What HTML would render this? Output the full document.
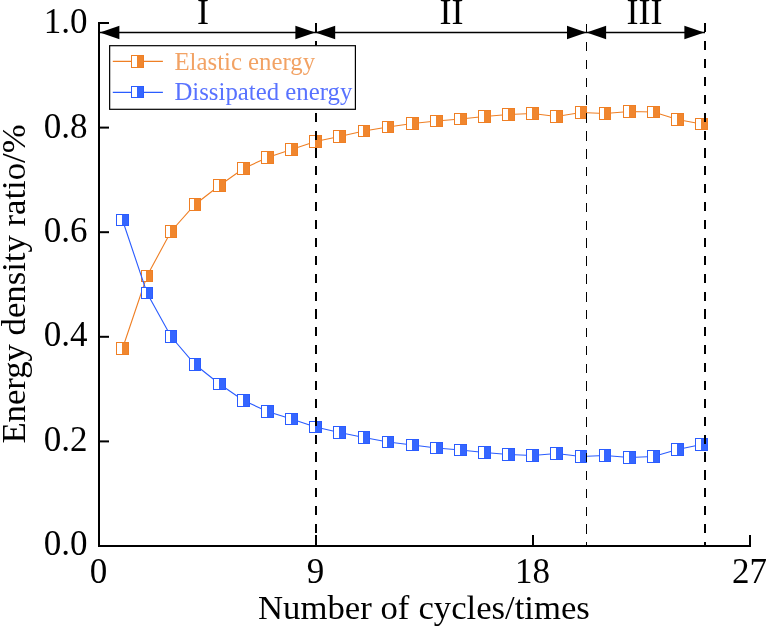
<!DOCTYPE html>
<html><head><meta charset="utf-8"><style>
html,body{margin:0;padding:0;background:#fff;}
body{width:766px;height:627px;overflow:hidden;}
svg{display:block;will-change:transform;font-family:"Liberation Serif",serif;}
</style></head><body>
<svg width="766" height="627" viewBox="0 0 766 627">
<polyline points="122.50,348.50 147.00,276.00 171.00,231.50 195.00,204.50 219.50,185.50 243.50,168.50 267.50,157.50 291.50,149.50 315.50,141.50 339.50,136.50 364.00,131.00 388.00,127.00 412.50,123.50 436.50,121.00 460.50,119.00 484.50,116.50 508.50,114.50 532.50,113.50 556.50,116.50 581.00,112.50 605.00,113.50 629.50,111.50 653.50,112.00 677.50,119.50 701.50,124.00" fill="none" stroke="#ef7f24" stroke-width="1.1"/><rect x="116" y="342" width="13" height="13" fill="#fff"/><rect x="122" y="342" width="7" height="13" fill="#f0862e"/><rect x="116.5" y="342.5" width="12" height="12" fill="none" stroke="#ef7f24" stroke-width="1"/><rect x="141" y="270" width="12" height="12" fill="#fff"/><rect x="146" y="270" width="7" height="12" fill="#f0862e"/><rect x="141.5" y="270.5" width="11" height="11" fill="none" stroke="#ef7f24" stroke-width="1"/><rect x="165" y="225" width="12" height="13" fill="#fff"/><rect x="170" y="225" width="7" height="13" fill="#f0862e"/><rect x="165.5" y="225.5" width="11" height="12" fill="none" stroke="#ef7f24" stroke-width="1"/><rect x="189" y="198" width="12" height="13" fill="#fff"/><rect x="194" y="198" width="7" height="13" fill="#f0862e"/><rect x="189.5" y="198.5" width="11" height="12" fill="none" stroke="#ef7f24" stroke-width="1"/><rect x="213" y="179" width="13" height="13" fill="#fff"/><rect x="219" y="179" width="7" height="13" fill="#f0862e"/><rect x="213.5" y="179.5" width="12" height="12" fill="none" stroke="#ef7f24" stroke-width="1"/><rect x="237" y="162" width="13" height="13" fill="#fff"/><rect x="243" y="162" width="7" height="13" fill="#f0862e"/><rect x="237.5" y="162.5" width="12" height="12" fill="none" stroke="#ef7f24" stroke-width="1"/><rect x="261" y="151" width="13" height="13" fill="#fff"/><rect x="267" y="151" width="7" height="13" fill="#f0862e"/><rect x="261.5" y="151.5" width="12" height="12" fill="none" stroke="#ef7f24" stroke-width="1"/><rect x="285" y="143" width="13" height="13" fill="#fff"/><rect x="291" y="143" width="7" height="13" fill="#f0862e"/><rect x="285.5" y="143.5" width="12" height="12" fill="none" stroke="#ef7f24" stroke-width="1"/><rect x="309" y="135" width="13" height="13" fill="#fff"/><rect x="315" y="135" width="7" height="13" fill="#f0862e"/><rect x="309.5" y="135.5" width="12" height="12" fill="none" stroke="#ef7f24" stroke-width="1"/><rect x="333" y="130" width="13" height="13" fill="#fff"/><rect x="339" y="130" width="7" height="13" fill="#f0862e"/><rect x="333.5" y="130.5" width="12" height="12" fill="none" stroke="#ef7f24" stroke-width="1"/><rect x="358" y="125" width="12" height="12" fill="#fff"/><rect x="363" y="125" width="7" height="12" fill="#f0862e"/><rect x="358.5" y="125.5" width="11" height="11" fill="none" stroke="#ef7f24" stroke-width="1"/><rect x="382" y="121" width="12" height="12" fill="#fff"/><rect x="387" y="121" width="7" height="12" fill="#f0862e"/><rect x="382.5" y="121.5" width="11" height="11" fill="none" stroke="#ef7f24" stroke-width="1"/><rect x="406" y="117" width="13" height="13" fill="#fff"/><rect x="412" y="117" width="7" height="13" fill="#f0862e"/><rect x="406.5" y="117.5" width="12" height="12" fill="none" stroke="#ef7f24" stroke-width="1"/><rect x="430" y="115" width="13" height="12" fill="#fff"/><rect x="436" y="115" width="7" height="12" fill="#f0862e"/><rect x="430.5" y="115.5" width="12" height="11" fill="none" stroke="#ef7f24" stroke-width="1"/><rect x="454" y="113" width="13" height="12" fill="#fff"/><rect x="460" y="113" width="7" height="12" fill="#f0862e"/><rect x="454.5" y="113.5" width="12" height="11" fill="none" stroke="#ef7f24" stroke-width="1"/><rect x="478" y="110" width="13" height="13" fill="#fff"/><rect x="484" y="110" width="7" height="13" fill="#f0862e"/><rect x="478.5" y="110.5" width="12" height="12" fill="none" stroke="#ef7f24" stroke-width="1"/><rect x="502" y="108" width="13" height="13" fill="#fff"/><rect x="508" y="108" width="7" height="13" fill="#f0862e"/><rect x="502.5" y="108.5" width="12" height="12" fill="none" stroke="#ef7f24" stroke-width="1"/><rect x="526" y="107" width="13" height="13" fill="#fff"/><rect x="532" y="107" width="7" height="13" fill="#f0862e"/><rect x="526.5" y="107.5" width="12" height="12" fill="none" stroke="#ef7f24" stroke-width="1"/><rect x="550" y="110" width="13" height="13" fill="#fff"/><rect x="556" y="110" width="7" height="13" fill="#f0862e"/><rect x="550.5" y="110.5" width="12" height="12" fill="none" stroke="#ef7f24" stroke-width="1"/><rect x="575" y="106" width="12" height="13" fill="#fff"/><rect x="580" y="106" width="7" height="13" fill="#f0862e"/><rect x="575.5" y="106.5" width="11" height="12" fill="none" stroke="#ef7f24" stroke-width="1"/><rect x="599" y="107" width="12" height="13" fill="#fff"/><rect x="604" y="107" width="7" height="13" fill="#f0862e"/><rect x="599.5" y="107.5" width="11" height="12" fill="none" stroke="#ef7f24" stroke-width="1"/><rect x="623" y="105" width="13" height="13" fill="#fff"/><rect x="629" y="105" width="7" height="13" fill="#f0862e"/><rect x="623.5" y="105.5" width="12" height="12" fill="none" stroke="#ef7f24" stroke-width="1"/><rect x="647" y="106" width="13" height="12" fill="#fff"/><rect x="653" y="106" width="7" height="12" fill="#f0862e"/><rect x="647.5" y="106.5" width="12" height="11" fill="none" stroke="#ef7f24" stroke-width="1"/><rect x="671" y="113" width="13" height="13" fill="#fff"/><rect x="677" y="113" width="7" height="13" fill="#f0862e"/><rect x="671.5" y="113.5" width="12" height="12" fill="none" stroke="#ef7f24" stroke-width="1"/><rect x="695" y="118" width="13" height="12" fill="#fff"/><rect x="701" y="118" width="7" height="12" fill="#f0862e"/><rect x="695.5" y="118.5" width="12" height="11" fill="none" stroke="#ef7f24" stroke-width="1"/>
<polyline points="122.50,220.00 147.00,293.00 171.00,336.50 195.00,364.50 219.50,384.00 243.50,400.50 267.50,411.50 291.50,419.00 315.50,427.00 339.50,432.50 364.00,437.50 388.00,442.00 412.50,445.00 436.50,448.00 460.50,450.00 484.50,452.50 508.50,454.50 532.50,455.50 556.50,453.50 581.00,456.50 605.00,455.50 629.50,457.50 653.50,456.50 677.50,449.50 701.50,444.50" fill="none" stroke="#2a5cff" stroke-width="1.1"/><rect x="116" y="214" width="13" height="12" fill="#fff"/><rect x="122" y="214" width="7" height="12" fill="#3566ff"/><rect x="116.5" y="214.5" width="12" height="11" fill="none" stroke="#2a5cff" stroke-width="1"/><rect x="141" y="287" width="12" height="12" fill="#fff"/><rect x="146" y="287" width="7" height="12" fill="#3566ff"/><rect x="141.5" y="287.5" width="11" height="11" fill="none" stroke="#2a5cff" stroke-width="1"/><rect x="165" y="330" width="12" height="13" fill="#fff"/><rect x="170" y="330" width="7" height="13" fill="#3566ff"/><rect x="165.5" y="330.5" width="11" height="12" fill="none" stroke="#2a5cff" stroke-width="1"/><rect x="189" y="358" width="12" height="13" fill="#fff"/><rect x="194" y="358" width="7" height="13" fill="#3566ff"/><rect x="189.5" y="358.5" width="11" height="12" fill="none" stroke="#2a5cff" stroke-width="1"/><rect x="213" y="378" width="13" height="12" fill="#fff"/><rect x="219" y="378" width="7" height="12" fill="#3566ff"/><rect x="213.5" y="378.5" width="12" height="11" fill="none" stroke="#2a5cff" stroke-width="1"/><rect x="237" y="394" width="13" height="13" fill="#fff"/><rect x="243" y="394" width="7" height="13" fill="#3566ff"/><rect x="237.5" y="394.5" width="12" height="12" fill="none" stroke="#2a5cff" stroke-width="1"/><rect x="261" y="405" width="13" height="13" fill="#fff"/><rect x="267" y="405" width="7" height="13" fill="#3566ff"/><rect x="261.5" y="405.5" width="12" height="12" fill="none" stroke="#2a5cff" stroke-width="1"/><rect x="285" y="413" width="13" height="12" fill="#fff"/><rect x="291" y="413" width="7" height="12" fill="#3566ff"/><rect x="285.5" y="413.5" width="12" height="11" fill="none" stroke="#2a5cff" stroke-width="1"/><rect x="309" y="421" width="13" height="12" fill="#fff"/><rect x="315" y="421" width="7" height="12" fill="#3566ff"/><rect x="309.5" y="421.5" width="12" height="11" fill="none" stroke="#2a5cff" stroke-width="1"/><rect x="333" y="426" width="13" height="13" fill="#fff"/><rect x="339" y="426" width="7" height="13" fill="#3566ff"/><rect x="333.5" y="426.5" width="12" height="12" fill="none" stroke="#2a5cff" stroke-width="1"/><rect x="358" y="431" width="12" height="13" fill="#fff"/><rect x="363" y="431" width="7" height="13" fill="#3566ff"/><rect x="358.5" y="431.5" width="11" height="12" fill="none" stroke="#2a5cff" stroke-width="1"/><rect x="382" y="436" width="12" height="12" fill="#fff"/><rect x="387" y="436" width="7" height="12" fill="#3566ff"/><rect x="382.5" y="436.5" width="11" height="11" fill="none" stroke="#2a5cff" stroke-width="1"/><rect x="406" y="439" width="13" height="12" fill="#fff"/><rect x="412" y="439" width="7" height="12" fill="#3566ff"/><rect x="406.5" y="439.5" width="12" height="11" fill="none" stroke="#2a5cff" stroke-width="1"/><rect x="430" y="442" width="13" height="12" fill="#fff"/><rect x="436" y="442" width="7" height="12" fill="#3566ff"/><rect x="430.5" y="442.5" width="12" height="11" fill="none" stroke="#2a5cff" stroke-width="1"/><rect x="454" y="444" width="13" height="12" fill="#fff"/><rect x="460" y="444" width="7" height="12" fill="#3566ff"/><rect x="454.5" y="444.5" width="12" height="11" fill="none" stroke="#2a5cff" stroke-width="1"/><rect x="478" y="446" width="13" height="13" fill="#fff"/><rect x="484" y="446" width="7" height="13" fill="#3566ff"/><rect x="478.5" y="446.5" width="12" height="12" fill="none" stroke="#2a5cff" stroke-width="1"/><rect x="502" y="448" width="13" height="13" fill="#fff"/><rect x="508" y="448" width="7" height="13" fill="#3566ff"/><rect x="502.5" y="448.5" width="12" height="12" fill="none" stroke="#2a5cff" stroke-width="1"/><rect x="526" y="449" width="13" height="13" fill="#fff"/><rect x="532" y="449" width="7" height="13" fill="#3566ff"/><rect x="526.5" y="449.5" width="12" height="12" fill="none" stroke="#2a5cff" stroke-width="1"/><rect x="550" y="447" width="13" height="13" fill="#fff"/><rect x="556" y="447" width="7" height="13" fill="#3566ff"/><rect x="550.5" y="447.5" width="12" height="12" fill="none" stroke="#2a5cff" stroke-width="1"/><rect x="575" y="450" width="12" height="13" fill="#fff"/><rect x="580" y="450" width="7" height="13" fill="#3566ff"/><rect x="575.5" y="450.5" width="11" height="12" fill="none" stroke="#2a5cff" stroke-width="1"/><rect x="599" y="449" width="12" height="13" fill="#fff"/><rect x="604" y="449" width="7" height="13" fill="#3566ff"/><rect x="599.5" y="449.5" width="11" height="12" fill="none" stroke="#2a5cff" stroke-width="1"/><rect x="623" y="451" width="13" height="13" fill="#fff"/><rect x="629" y="451" width="7" height="13" fill="#3566ff"/><rect x="623.5" y="451.5" width="12" height="12" fill="none" stroke="#2a5cff" stroke-width="1"/><rect x="647" y="450" width="13" height="13" fill="#fff"/><rect x="653" y="450" width="7" height="13" fill="#3566ff"/><rect x="647.5" y="450.5" width="12" height="12" fill="none" stroke="#2a5cff" stroke-width="1"/><rect x="671" y="443" width="13" height="13" fill="#fff"/><rect x="677" y="443" width="7" height="13" fill="#3566ff"/><rect x="671.5" y="443.5" width="12" height="12" fill="none" stroke="#2a5cff" stroke-width="1"/><rect x="695" y="438" width="13" height="13" fill="#fff"/><rect x="701" y="438" width="7" height="13" fill="#3566ff"/><rect x="695.5" y="438.5" width="12" height="12" fill="none" stroke="#2a5cff" stroke-width="1"/>
<path d="M315,23h2v9h-2zM315,41h2v9h-2zM315,59h2v9h-2zM315,77h2v9h-2zM315,95h2v9h-2zM315,113h2v9h-2zM315,131h2v9h-2zM315,148h2v10h-2zM315,166h2v9h-2zM315,184h2v9h-2zM315,202h2v9h-2zM315,220h2v9h-2zM315,238h2v9h-2zM315,256h2v9h-2zM315,274h2v9h-2zM315,292h2v9h-2zM315,309h2v10h-2zM315,327h2v9h-2zM315,345h2v9h-2zM315,363h2v9h-2zM315,381h2v9h-2zM315,399h2v9h-2zM315,417h2v9h-2zM315,435h2v9h-2zM315,452h2v10h-2zM315,470h2v10h-2zM315,488h2v9h-2zM315,506h2v9h-2zM315,524h2v9h-2zM315,542h2v4h-2z" fill="#000"/>
<path d="M586,24h1v9h-1zM586,42h1v9h-1zM586,60h1v9h-1zM586,78h1v9h-1zM586,95h1v10h-1zM586,113h1v10h-1zM586,131h1v10h-1zM586,149h1v10h-1zM586,167h1v9h-1zM586,185h1v9h-1zM586,203h1v9h-1zM586,221h1v9h-1zM586,238h1v10h-1zM586,256h1v10h-1zM586,274h1v10h-1zM586,292h1v10h-1zM586,310h1v9h-1zM586,328h1v9h-1zM586,346h1v9h-1zM586,364h1v9h-1zM586,381h1v10h-1zM586,399h1v10h-1zM586,417h1v10h-1zM586,435h1v10h-1zM586,453h1v9h-1zM586,471h1v9h-1zM586,489h1v9h-1zM586,507h1v9h-1zM586,524h1v10h-1zM586,542h1v4h-1z" fill="#000"/>
<path d="M704,23h2v9h-2zM704,41h2v9h-2zM704,59h2v9h-2zM704,77h2v9h-2zM704,95h2v9h-2zM704,113h2v9h-2zM704,131h2v9h-2zM704,148h2v10h-2zM704,166h2v9h-2zM704,184h2v9h-2zM704,202h2v9h-2zM704,220h2v9h-2zM704,238h2v9h-2zM704,256h2v9h-2zM704,274h2v9h-2zM704,292h2v9h-2zM704,309h2v10h-2zM704,327h2v9h-2zM704,345h2v9h-2zM704,363h2v9h-2zM704,381h2v9h-2zM704,399h2v9h-2zM704,417h2v9h-2zM704,435h2v9h-2zM704,452h2v10h-2zM704,470h2v10h-2zM704,488h2v9h-2zM704,506h2v9h-2zM704,524h2v9h-2zM704,542h2v4h-2z" fill="#000"/>
<path d="M99,22 V547 M98,546 H751" stroke="#000" stroke-width="2" fill="none"/>
<line x1="98" y1="441.40" x2="109" y2="441.40" stroke="#000" stroke-width="2"/>
<line x1="98" y1="336.80" x2="109" y2="336.80" stroke="#000" stroke-width="2"/>
<line x1="98" y1="232.20" x2="109" y2="232.20" stroke="#000" stroke-width="2"/>
<line x1="98" y1="127.60" x2="109" y2="127.60" stroke="#000" stroke-width="2"/>
<line x1="98" y1="23.00" x2="109" y2="23.00" stroke="#000" stroke-width="2"/>
<line x1="316.00" y1="535" x2="316.00" y2="546" stroke="#000" stroke-width="2"/>
<line x1="533.00" y1="535" x2="533.00" y2="546" stroke="#000" stroke-width="2"/>
<line x1="750.00" y1="535" x2="750.00" y2="546" stroke="#000" stroke-width="2"/>
<text x="87.6" y="554.80" font-family="Liberation Serif, serif" fill="#000" font-size="35" text-anchor="end">0.0</text>
<text x="87.6" y="451.00" font-family="Liberation Serif, serif" fill="#000" font-size="35" text-anchor="end">0.2</text>
<text x="87.6" y="346.40" font-family="Liberation Serif, serif" fill="#000" font-size="35" text-anchor="end">0.4</text>
<text x="87.6" y="241.80" font-family="Liberation Serif, serif" fill="#000" font-size="35" text-anchor="end">0.6</text>
<text x="87.6" y="138.10" font-family="Liberation Serif, serif" fill="#000" font-size="35" text-anchor="end">0.8</text>
<text x="87.6" y="32.60" font-family="Liberation Serif, serif" fill="#000" font-size="35" text-anchor="end">1.0</text>
<text x="98.60" y="583.4" font-family="Liberation Serif, serif" fill="#000" font-size="35" text-anchor="middle">0</text>
<text x="315.60" y="583.4" font-family="Liberation Serif, serif" fill="#000" font-size="35" text-anchor="middle">9</text>
<text x="532.60" y="583.4" font-family="Liberation Serif, serif" fill="#000" font-size="35" text-anchor="middle">18</text>
<text x="749.60" y="583.4" font-family="Liberation Serif, serif" fill="#000" font-size="35" text-anchor="middle">27</text>
<text y="619.2" font-family="Liberation Serif, serif" fill="#000" font-size="34.7"><tspan x="258.05">Number</tspan><tspan x="380.43">of</tspan><tspan x="418.4">cycles/times</tspan></text>
<text transform="translate(25,284) rotate(-90)" x="0" y="0" font-family="Liberation Serif, serif" fill="#000" font-size="34.7" text-anchor="middle">Energy density ratio/%</text>
<line x1="100" y1="32.5" x2="705" y2="32.5" stroke="#000" stroke-width="1.4"/>
<path d="M99.9,32.5 L119.4,25.7 L119.4,39.3 Z" fill="#000"/>
<path d="M315.2,32.5 L295.4,25.7 L295.4,39.3 Z" fill="#000"/>
<path d="M315.4,32.5 L335.2,25.7 L335.2,39.3 Z" fill="#000"/>
<path d="M586.4,32.5 L567.0,25.7 L567.0,39.3 Z" fill="#000"/>
<path d="M586.6,32.5 L606.1,25.7 L606.1,39.3 Z" fill="#000"/>
<path d="M704.2,32.5 L684.4,25.7 L684.4,39.3 Z" fill="#000"/>
<text x="203" y="23.9" font-family="Liberation Serif, serif" fill="#000" font-size="36" text-anchor="middle">I</text>
<text x="451.5" y="23.9" font-family="Liberation Serif, serif" fill="#000" font-size="36" text-anchor="middle">II</text>
<text x="644.5" y="23.9" font-family="Liberation Serif, serif" fill="#000" font-size="36" text-anchor="middle">III</text>
<rect x="109.65" y="45.7" width="245.75" height="63.6" fill="#fff" stroke="#000" stroke-width="1.2"/>
<line x1="112.8" y1="61.4" x2="162.9" y2="61.4" stroke="#ef7f24" stroke-width="1.2"/>
<rect x="131" y="55" width="13" height="13" fill="#fff"/><rect x="137" y="55" width="7" height="13" fill="#f0862e"/><rect x="131.5" y="55.5" width="12" height="12" fill="none" stroke="#ef7f24" stroke-width="1"/>
<line x1="112.8" y1="92.4" x2="162.9" y2="92.4" stroke="#2a5cff" stroke-width="1.2"/>
<rect x="131" y="86" width="13" height="12" fill="#fff"/><rect x="137" y="86" width="7" height="12" fill="#3566ff"/><rect x="131.5" y="86.5" width="12" height="11" fill="none" stroke="#2a5cff" stroke-width="1"/>
<text x="174.45" y="69.8" font-family="Liberation Serif, serif" font-size="24.8" fill="#f2a264">Elastic energy</text>
<text x="174.4" y="99.8" font-family="Liberation Serif, serif" font-size="24.8" fill="#5872ff">Dissipated energy</text>
</svg>
</body></html>
